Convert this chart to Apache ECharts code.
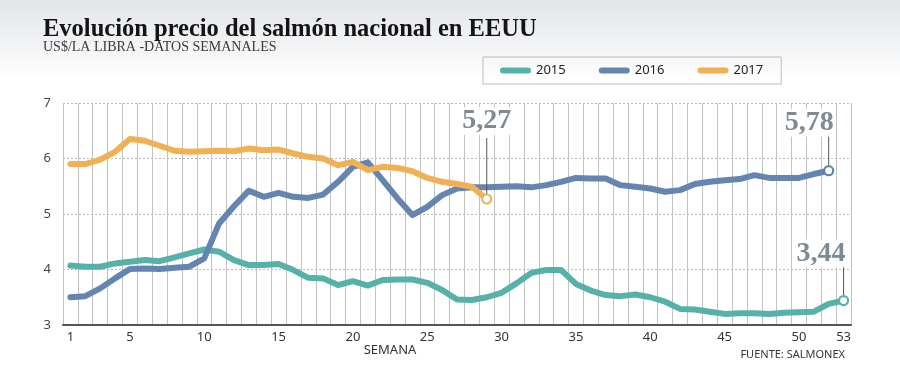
<!DOCTYPE html>
<html>
<head>
<meta charset="utf-8">
<script src="https://cdn.jsdelivr.net/npm/echarts@6/dist/echarts.min.js"></script>
<style>
html,body{margin:0;padding:0;background:#fff;}
#chart{width:900px;height:383px;}
</style>
</head>
<body>
<div id="chart"></div>
<script>
// ---- data ----
const weeks = Array.from({length: 53}, (_, i) => String(i + 1));
const xTickLabels = ['1','5','10','15','20','25','30','35','40','45','50','53'];
const yTicks = [3, 4, 5, 6, 7];
const seriesNames = ['2015', '2016', '2017'];
const s2015 = [4.07,4.05,4.05,4.11,4.14,4.17,4.15,4.22,4.29,4.36,
               4.32,4.17,4.08,4.08,4.10,3.99,3.85,3.84,3.72,3.79,
               3.71,3.81,3.82,3.82,3.76,3.63,3.46,3.45,3.50,3.58,
               3.75,3.94,3.99,3.99,3.74,3.62,3.54,3.52,3.55,3.50,
               3.42,3.29,3.28,3.24,3.20,3.21,3.21,3.20,3.22,3.23,
               3.24,3.38,3.44];
const s2016 = [3.50,3.52,3.66,3.84,4.01,4.02,4.01,4.03,4.05,4.20,
               4.83,5.14,5.42,5.31,5.38,5.31,5.29,5.35,5.58,5.85,
               5.93,5.61,5.28,4.98,5.13,5.34,5.46,5.48,5.48,5.49,
               5.50,5.48,5.52,5.58,5.65,5.64,5.64,5.52,5.49,5.46,
               5.40,5.43,5.54,5.58,5.61,5.63,5.70,5.65,5.65,5.65,
               5.72,5.78];
const s2017 = [5.90,5.90,5.98,6.12,6.35,6.32,6.23,6.14,6.12,6.13,
               6.14,6.13,6.18,6.15,6.16,6.09,6.03,6.00,5.88,5.94,
               5.79,5.85,5.83,5.77,5.65,5.58,5.54,5.49,5.27];

// ---- styles ----
const colors = ['#56b1a9', '#6585b1', '#f0b053'];
const allData = [s2015, s2016, s2017];
const annoColor = '#7f8b94';
// annotation layout per series: horizontal text anchor relative to point, vertical offsets
const annoLayout = [
  {align: 'right', dx: 4, textDy: -47, lineTop: -37},
  {align: 'right', dx: 7, textDy: -48, lineTop: -38},
  {align: 'center', dx: 0, textDy: -78, lineTop: -61}
];

const chart = echarts.init(document.getElementById('chart'), null, {renderer: 'canvas'});
const sans = '"Noto Sans", "Open Sans", sans-serif';
const serif = '"Liberation Serif", "DejaVu Serif", serif';

const series = [];
allData.forEach((d, i) => {
  series.push({
    name: seriesNames[i], type: 'line', data: d, symbol: 'none',
    color: colors[i],
    lineStyle: {width: 6, color: colors[i], cap: 'round', join: 'round'},
    z: 3 + (i === 2 ? 1 : 0)
  });
});
allData.forEach((d, i) => {
  series.push({
    name: 'end' + seriesNames[i], type: 'scatter',
    data: [[d.length - 1, d[d.length - 1]]],
    symbol: 'circle', symbolSize: 9,
    itemStyle: {color: '#fff', borderColor: colors[i], borderWidth: 2.2, opacity: 1},
    z: 6, silent: true
  });
});

const legendIcon = 'path://M3,0 L28,0 A3,3 0 0 1 28,6 L3,6 A3,3 0 0 1 3,0 Z';

chart.setOption({
  animation: false,
  backgroundColor: '#fff',
  grid: {left: 63, right: 49, top: 103, bottom: 58},
  legend: {
    data: seriesNames, left: 483, top: 57,
    icon: legendIcon, itemWidth: 31, itemHeight: 6, itemGap: 33,
    padding: [7, 18, 7, 17], borderColor: '#bdbdbd', borderWidth: 1,
    textStyle: {fontFamily: sans, fontSize: 13, color: '#222'},
    selectedMode: false
  },
  xAxis: {
    type: 'category', data: weeks, boundaryGap: true,
    axisLine: {show: true, lineStyle: {color: '#555', width: 2}},
    axisTick: {show: false},
    axisLabel: {
      interval: (idx, val) => xTickLabels.indexOf(val) >= 0,
      margin: 6, color: '#333', fontFamily: sans, fontSize: 13
    },
    splitLine: {show: true, interval: 0, lineStyle: {color: '#c2c2c2', width: 1}}
  },
  yAxis: {
    type: 'value', min: yTicks[0], max: yTicks[yTicks.length - 1], interval: 1,
    axisLine: {show: false}, axisTick: {show: false},
    axisLabel: {margin: 12, color: '#444', fontFamily: sans, fontSize: 13},
    splitLine: {show: true, lineStyle: {color: '#bbb', type: [2, 2], width: 1}}
  },
  series: series
});

// graphics: background, titles, annotations
const graphics = [
  {type: 'rect', z: -10, silent: true, shape: {x: 0, y: 0, width: 900, height: 82},
   style: {fill: new echarts.graphic.LinearGradient(0, 0, 0, 1, [
     {offset: 0, color: '#e2e5e9'}, {offset: 1, color: '#ffffff'}])}},
  {type: 'text', x: 43, y: 30, style: {text: 'Evolución precio del salmón nacional en EEUU',
    font: 'bold 24.5px ' + serif, fill: '#141414', textVerticalAlign: 'middle'}},
  {type: 'text', x: 43, y: 47, style: {text: 'US$/LA LIBRA -DATOS SEMANALES',
    font: '14px ' + serif, fill: '#3a3a3a', textVerticalAlign: 'middle'}},
  {type: 'text', x: 390, y: 350, style: {text: 'SEMANA', font: '13px ' + sans, fill: '#333',
    textAlign: 'center', textVerticalAlign: 'middle'}},
  {type: 'text', x: 845, y: 355, style: {text: 'FUENTE: SALMONEX', font: '11px ' + sans, fill: '#333',
    textAlign: 'right', textVerticalAlign: 'middle'}}
];
allData.forEach((d, i) => {
  const idx = d.length - 1;
  const p = chart.convertToPixel({seriesIndex: i}, [idx, d[idx]]);
  const L = annoLayout[i];
  graphics.push({type: 'line', z: 5, silent: true,
    shape: {x1: p[0], y1: p[1] - 5, x2: p[0], y2: p[1] + L.lineTop},
    style: {stroke: '#555', lineWidth: 1}});
  graphics.push({type: 'text', z: 7, silent: true, x: p[0] + L.dx, y: p[1] + L.textDy,
    style: {text: d[idx].toFixed(2).replace('.', ','), font: 'bold 28px ' + serif, fill: annoColor,
      textAlign: L.align, textVerticalAlign: 'middle',
      backgroundColor: 'rgba(255,255,255,0.9)', padding: [0, 2, 0, 2]}});
});
chart.setOption({graphic: graphics});
</script>
</body>
</html>
